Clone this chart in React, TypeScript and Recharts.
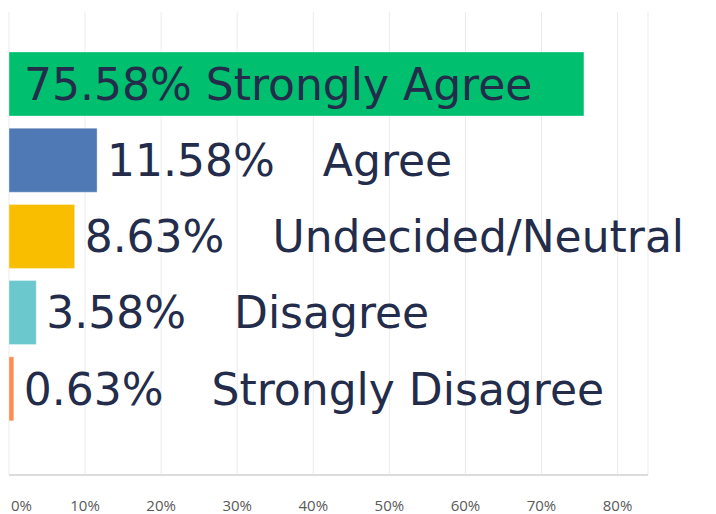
import { BarChart, Bar, XAxis, YAxis, CartesianGrid, Cell, LabelList } from "recharts";

const categories = ["Strongly Agree", "Agree", "Undecided/Neutral", "Disagree", "Strongly Disagree"];
const percents = [75.58, 11.58, 8.63, 3.58, 0.63];
const barColors = ["#00bf6f", "#4e79b4", "#f9be00", "#6bc8cd", "#ff8b4f"];
const xTicks = [0, 10, 20, 30, 40, 50, 60, 70, 80];

const data = categories.map((name, i) => ({ name, value: percents[i] }));

const TEXT_COLOR = "#232c4a";
const FONT = "'DejaVu Sans', sans-serif";

function BarLabel(props: any) {
  const { x, y, width, height, index } = props;
  const d = data[index];
  const cy = y + height / 2;
  if (d.value > 50) {
    return (
      <text x={x + 15} y={cy} dy="0.36em" fill={TEXT_COLOR} fontSize={44} fontFamily={FONT}>
        {`${d.value.toFixed(2)}% ${d.name}`}
      </text>
    );
  }
  return (
    <text x={x + width + 10} y={cy} dy="0.36em" fill={TEXT_COLOR} fontSize={44} fontFamily={FONT}>
      <tspan>{`${d.value.toFixed(2)}%`}</tspan>
      <tspan dx={48}>{d.name}</tspan>
    </text>
  );
}

function XTick(props: any) {
  const { x, y, payload } = props;
  const first = payload.value === 0;
  return (
    <text
      x={first ? x + 2 : x}
      y={y}
      dy="0.71em"
      textAnchor={first ? "start" : "middle"}
      fill="#5a5a5a"
      fontSize={15}
      fontFamily="'Open Sans', sans-serif"
    >
      {`${payload.value}%`}
    </text>
  );
}

export default function App() {
  return (
    <BarChart
      width={708}
      height={506}
      data={data}
      layout="vertical"
      margin={{ top: 4, right: 68, bottom: 0, left: 1 }}
    >
      <CartesianGrid horizontal={false} stroke="#ebebeb" />
      <XAxis
        type="number"
        domain={[0, 84]}
        ticks={xTicks}
        interval={0}
        tick={<XTick />}
        tickLine={false}
        tickSize={0}
        tickMargin={25}
        height={39}
        axisLine={{ stroke: "#dcdcdc", strokeWidth: 2 }}
      />
      <YAxis
        type="category"
        dataKey="name"
        width={0}
        tick={false}
        tickLine={false}
        axisLine={{ stroke: "#dcdcdc", strokeWidth: 2 }}
        padding={{ top: 34, bottom: 48 }}
      />
      <Bar dataKey="value" barSize={64} isAnimationActive={false} stroke="#ffffff" strokeOpacity={0.35}>
        {data.map((d, i) => (
          <Cell key={d.name} fill={barColors[i]} />
        ))}
        <LabelList dataKey="value" content={<BarLabel />} />
      </Bar>
    </BarChart>
  );
}
